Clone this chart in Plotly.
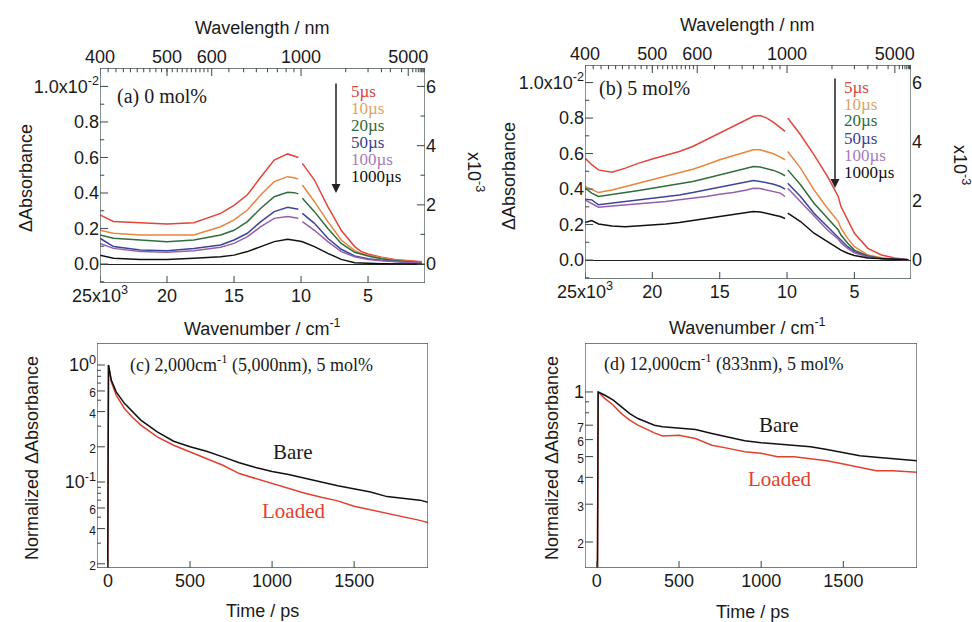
import plotly.graph_objects as go

W, H = 972, 622
def px(x): return x / W
def py(y): return 1 - y / H

delays = ["5µs", "10µs", "20µs", "50µs", "100µs", "1000µs"]

wn_a = [25, 24, 22, 20, 18, 16, 15, 14, 13, 12, 11, 10.5, 10.2, 10.05, 9.9, 9, 8, 7, 6, 5.5, 5, 4, 3, 2, 1]
a_5us = [0.276, 0.24, 0.232, 0.225, 0.233, 0.285, 0.33, 0.39, 0.49, 0.585, 0.62, 0.61, 0.60, None, 0.567, 0.473, 0.323, 0.19, 0.098, 0.07, 0.056, 0.038, 0.026, 0.019, 0.013]
a_10us = [0.19, 0.173, 0.163, 0.163, 0.163, 0.21, 0.248, 0.304, 0.39, 0.464, 0.492, 0.486, 0.478, None, 0.445, 0.351, 0.239, 0.135, 0.075, 0.06, 0.05, 0.034, 0.022, 0.015, 0.011]
a_20us = [0.163, 0.145, 0.135, 0.126, 0.135, 0.163, 0.19, 0.239, 0.314, 0.379, 0.404, 0.402, 0.395, None, 0.37, 0.295, 0.2, 0.116, 0.066, 0.054, 0.045, 0.03, 0.019, 0.013, 0.009]
a_50us = [0.145, 0.098, 0.079, 0.075, 0.088, 0.107, 0.135, 0.173, 0.239, 0.295, 0.319, 0.314, 0.308, None, 0.285, 0.229, 0.145, 0.083, 0.045, 0.036, 0.03, 0.021, 0.013, 0.009, 0.0075]
a_100us = [0.116, 0.088, 0.07, 0.066, 0.075, 0.094, 0.116, 0.154, 0.21, 0.257, 0.267, 0.263, 0.258, None, 0.239, 0.19, 0.126, 0.07, 0.041, 0.032, 0.026, 0.019, 0.013, 0.009, 0.0075]
a_1000us = [0.05, 0.032, 0.026, 0.026, 0.032, 0.041, 0.05, 0.07, 0.098, 0.126, 0.139, 0.135, 0.13, 0.128, 0.125, 0.098, 0.06, 0.026, 0.0075, 0.005, 0.004, 0.002, 0.001, 0.0, 0.0]

wn_b = [25, 24.5, 24, 23, 22, 21, 20, 19, 18, 17, 16, 15, 14, 13, 12.5, 12, 11.5, 11, 10.5, 10.15, 10.05, 9.95, 9, 8, 7, 6.2, 6, 5.5, 5, 4, 3, 2, 1]
b_5us = [0.574, 0.537, 0.508, 0.495, 0.518, 0.546, 0.569, 0.589, 0.612, 0.64, 0.678, 0.716, 0.753, 0.791, 0.81, 0.814, 0.8, 0.776, 0.744, 0.725, None, 0.8, 0.706, 0.593, 0.471, 0.358, 0.301, 0.226, 0.151, 0.066, 0.028, 0.011, 0.002]
b_10us = [0.414, 0.395, 0.38, 0.395, 0.414, 0.433, 0.456, 0.471, 0.49, 0.512, 0.537, 0.565, 0.588, 0.612, 0.621, 0.621, 0.612, 0.599, 0.58, 0.565, None, 0.612, 0.518, 0.395, 0.292, 0.217, 0.179, 0.122, 0.075, 0.028, 0.013, 0.006, 0.002]
b_20us = [0.405, 0.377, 0.358, 0.367, 0.38, 0.392, 0.405, 0.414, 0.429, 0.443, 0.461, 0.48, 0.499, 0.518, 0.527, 0.524, 0.514, 0.505, 0.49, 0.475, None, 0.508, 0.424, 0.32, 0.235, 0.169, 0.141, 0.094, 0.056, 0.023, 0.009, 0.004, 0.002]
b_50us = [0.343, 0.339, 0.311, 0.32, 0.33, 0.339, 0.348, 0.358, 0.367, 0.38, 0.395, 0.41, 0.424, 0.443, 0.448, 0.443, 0.437, 0.427, 0.414, 0.399, None, 0.433, 0.358, 0.264, 0.188, 0.132, 0.113, 0.075, 0.047, 0.019, 0.008, 0.004, 0.002]
b_100us = [0.339, 0.32, 0.298, 0.305, 0.311, 0.316, 0.32, 0.33, 0.339, 0.348, 0.358, 0.371, 0.38, 0.395, 0.405, 0.403, 0.395, 0.386, 0.377, 0.358, None, 0.405, 0.33, 0.245, 0.169, 0.117, 0.098, 0.066, 0.041, 0.017, 0.008, 0.004, 0.002]
b_1000us = [0.211, 0.222, 0.203, 0.192, 0.188, 0.192, 0.198, 0.203, 0.211, 0.222, 0.235, 0.245, 0.254, 0.267, 0.273, 0.271, 0.264, 0.254, 0.245, 0.234, None, 0.264, 0.217, 0.151, 0.104, 0.066, 0.056, 0.038, 0.026, 0.011, 0.006, 0.004, 0.002]

t_c = [-3, 3, 20, 50, 100, 150, 200, 300, 400, 500, 600, 700, 800, 900, 1000, 1100, 1200, 1300, 1400, 1500, 1600, 1700, 1800, 1900, 1950]
c_bare = [0.005, 1.0, 0.744, 0.59, 0.47, 0.40, 0.338, 0.268, 0.223, 0.2, 0.183, 0.164, 0.146, 0.133, 0.123, 0.116, 0.107, 0.1, 0.093, 0.087, 0.082, 0.075, 0.072, 0.07, 0.067]
c_loaded = [0.005, 1.0, 0.72, 0.553, 0.425, 0.356, 0.306, 0.243, 0.206, 0.181, 0.159, 0.139, 0.118, 0.107, 0.097, 0.087, 0.08, 0.074, 0.069, 0.062, 0.058, 0.054, 0.051, 0.047, 0.045]

t_d = [-2, 8, 50, 100, 150, 200, 250, 300, 350, 400, 500, 600, 700, 800, 900, 1000, 1100, 1200, 1300, 1400, 1500, 1600, 1700, 1800, 1900, 1950]
d_bare = [0.01, 1.0, 0.965, 0.915, 0.852, 0.793, 0.752, 0.726, 0.70, 0.688, 0.676, 0.669, 0.641, 0.618, 0.592, 0.58, 0.571, 0.565, 0.556, 0.54, 0.522, 0.505, 0.496, 0.49, 0.482, 0.478]
d_loaded = [0.01, 1.0, 0.931, 0.867, 0.793, 0.739, 0.70, 0.669, 0.645, 0.623, 0.629, 0.607, 0.565, 0.546, 0.527, 0.518, 0.499, 0.499, 0.49, 0.478, 0.462, 0.446, 0.43, 0.43, 0.425, 0.422]

wn_ticks = [25, 20, 15, 10, 5]
wn_ticktext = ["25x10<sup>3</sup>", "20", "15", "10", "5"]
wl_major = [400, 500, 600, 1000, 5000]
wl_minor = list(range(410, 600, 10)) + list(range(650, 1000, 50)) + [1500, 2000, 2500, 3000, 4000, 6000, 7000, 8000, 9000, 10000, 11000, 12000, 13000]
dabs_ticks = [0.0, 0.2, 0.4, 0.6, 0.8, 1.0]
dabs_minor = [-0.1, 0.1, 0.3, 0.5, 0.7, 0.9]
dabs_ticktext = ["0.0", "0.2", "0.4", "0.6", "0.8", "1.0x10<sup>-2</sup>"]
right_ticks = [0, 2, 4, 6]
right_minor = [1, 3, 5]
time_ticks = [0, 500, 1000, 1500]
c_ytv = [0.02, 0.04, 0.06, 0.1, 0.2, 0.4, 0.6, 1.0]
c_minor = [0.03, 0.05, 0.07, 0.08, 0.09, 0.3, 0.5, 0.7, 0.8, 0.9]
d_ytv = [0.2, 0.3, 0.4, 0.5, 0.6, 0.7, 1.0]
d_minor = [0.8, 0.9]

# axis ranges (axis units; log10 for the log axes)
xr_a, yr_a = [25, 0.75], [-0.107, 1.104]
xr_b, yr_b = [25, 0.8], [-0.107, 1.099]
xr_c, yr_c = [-67, 1950], [-1.735, 0.188]
xr_d, yr_d = [-72, 1948], [-0.82, 0.228]
RIGHT_SCALE = 6  # right axis (x10^-3) = 6 x left axis (x10^-2 full scale)

FC = "#4a5656"
SANS = "Liberation Sans"
SERIF = "Liberation Serif"
line_colors = ["#e2463b", "#e9853f", "#2f6e3c", "#3b4599", "#955fae", "#111111"]
label_colors = ["#d8453d", "#dca464", "#2f6a3a", "#3b4090", "#a97bb9", "#111111"]

fig = go.Figure()

for ys, c in zip([a_5us, a_10us, a_20us, a_50us, a_100us, a_1000us], line_colors):
    fig.add_trace(go.Scatter(x=wn_a, y=ys, xaxis="x", yaxis="y", mode="lines",
                             line=dict(color=c, width=1.5), connectgaps=False, showlegend=False))
fig.add_trace(go.Scatter(x=[None], y=[None], xaxis="x2", yaxis="y2", showlegend=False))

for ys, c in zip([b_5us, b_10us, b_20us, b_50us, b_100us, b_1000us], line_colors):
    fig.add_trace(go.Scatter(x=wn_b, y=ys, xaxis="x3", yaxis="y3", mode="lines",
                             line=dict(color=c, width=1.5), connectgaps=False, showlegend=False))
fig.add_trace(go.Scatter(x=[None], y=[None], xaxis="x4", yaxis="y4", showlegend=False))

fig.add_trace(go.Scatter(x=t_c, y=c_loaded, xaxis="x5", yaxis="y5", mode="lines",
                         line=dict(color="#e0412f", width=1.5), showlegend=False))
fig.add_trace(go.Scatter(x=t_c, y=c_bare, xaxis="x5", yaxis="y5", mode="lines",
                         line=dict(color="#111111", width=1.5), showlegend=False))
fig.add_trace(go.Scatter(x=t_d, y=d_loaded, xaxis="x6", yaxis="y6", mode="lines",
                         line=dict(color="#e0412f", width=1.5), showlegend=False))
fig.add_trace(go.Scatter(x=t_d, y=d_bare, xaxis="x6", yaxis="y6", mode="lines",
                         line=dict(color="#111111", width=1.5), showlegend=False))

# ---- frames and tick marks, derived from the axis ranges and tick arrays ----
def seg_trace(xs, ys, xa, ya, width=1.1):
    fig.add_trace(go.Scatter(x=xs, y=ys, xaxis=xa, yaxis=ya, mode="lines",
                             line=dict(color=FC, width=width), cliponaxis=False,
                             hoverinfo="skip", showlegend=False))

def frame(xr, yr, xa, ya, log=False):
    y0, y1 = (10 ** yr[0], 10 ** yr[1]) if log else (yr[0], yr[1])
    seg_trace([xr[0], xr[1], xr[1], xr[0], xr[0]], [y0, y0, y1, y1, y0], xa, ya, 1.3)

def vticks(vals, yr, xa, ya, frac, top=False, log=False):
    lo, hi = yr
    xs, ys = [], []
    for v in vals:
        a, b = (hi - frac * (hi - lo), hi) if top else (lo, lo + frac * (hi - lo))
        if log:
            a, b = 10 ** a, 10 ** b
        xs += [v, v, None]
        ys += [a, b, None]
    seg_trace(xs, ys, xa, ya)

def hticks(vals, xr, xa, ya, frac, right=False, outside=False):
    lo, hi = xr
    xs, ys = [], []
    for v in vals:
        if right:
            a, b = hi, (hi + frac * (hi - lo)) if outside else (hi - frac * (hi - lo))
        else:
            a, b = lo, lo + frac * (hi - lo)
        xs += [a, b, None]
        ys += [v, v, None]
    seg_trace(xs, ys, xa, ya)

wl_pos = [1e4 / w for w in wl_major]
wl_minor_pos = [1e4 / w for w in wl_minor]

for xr, yr, xa, ya, outside in [(xr_a, yr_a, "x", "y", False), (xr_b, yr_b, "x3", "y3", True)]:
    frame(xr, yr, xa, ya)
    vticks(wn_ticks, yr, xa, ya, 0.033)
    vticks(wl_pos, yr, xa, ya, 0.037, top=True)
    vticks(wl_minor_pos, yr, xa, ya, 0.02, top=True)
    hticks(dabs_ticks, xr, xa, ya, 0.025)
    hticks(dabs_minor, xr, xa, ya, 0.013)
    hticks([v / RIGHT_SCALE for v in right_ticks], xr, xa, ya, 0.025, right=True, outside=outside)
    hticks([v / RIGHT_SCALE for v in right_minor], xr, xa, ya, 0.014, right=True, outside=outside)

for xr, yr, xa, ya, ymaj, ymin in [(xr_c, yr_c, "x5", "y5", c_ytv, c_minor),
                                    (xr_d, yr_d, "x6", "y6", d_ytv, d_minor)]:
    frame(xr, yr, xa, ya, log=True)
    vticks(time_ticks, yr, xa, ya, 0.031, log=True)
    hticks(ymaj, xr, xa, ya, 0.024)
    hticks(ymin, xr, xa, ya, 0.012)

# ---- axes (labels only; the frame is drawn above) ----
tf = dict(family=SANS, size=18, color="#1a1a1a")

def ax(**kw):
    d = dict(showgrid=False, zeroline=False, showline=False, ticks="", tickfont=tf,
             tickmode="array")
    d.update(kw)
    return d

def spectral_axes(xa, xb, ya, yb, xdom, ydom, xrange, yrange):
    lay = {}
    lay[xa[0]] = ax(domain=xdom, anchor=ya[1], range=xrange, tickvals=wn_ticks,
                    ticktext=wn_ticktext)
    lay[xb[0]] = ax(overlaying=xa[1], anchor=ya[1], side="top", range=xrange,
                    tickvals=wl_pos, ticktext=[str(w) for w in wl_major])
    lay[ya[0]] = ax(domain=ydom, anchor=xa[1], range=yrange, tickvals=dabs_ticks,
                    ticktext=dabs_ticktext, zeroline=True, zerolinecolor="#222222",
                    zerolinewidth=1.2)
    lay[yb[0]] = ax(overlaying=ya[1], anchor=xa[1], side="right",
                    range=[yrange[0] * RIGHT_SCALE, yrange[1] * RIGHT_SCALE],
                    tickvals=right_ticks)
    return lay

layout_axes = {}
layout_axes.update(spectral_axes(("xaxis", "x"), ("xaxis2", "x2"), ("yaxis", "y"), ("yaxis2", "y2"),
                                 [px(100), px(425)], [py(283), py(68)], xr_a, yr_a))
layout_axes.update(spectral_axes(("xaxis3", "x3"), ("xaxis4", "x4"), ("yaxis3", "y3"), ("yaxis4", "y4"),
                                 [px(585), px(911)], [py(279), py(65)], xr_b, yr_b))

small = lambda s: "<span style='font-size:12px'>%s</span>" % s
c_ytt = [small("2"), small("4"), small("6"), "10<sup>-1</sup>", small("2"), small("4"), small("6"), "10<sup>0</sup>"]
d_ytt = [small("2"), small("3"), small("4"), small("5"), small("6"), small("7"), "1"]

layout_axes["xaxis5"] = ax(domain=[px(97), px(428)], anchor="y5", range=xr_c, tickvals=time_ticks)
layout_axes["yaxis5"] = ax(domain=[py(568), py(343)], anchor="x5", type="log", range=yr_c,
                           tickvals=c_ytv, ticktext=c_ytt)
layout_axes["xaxis6"] = ax(domain=[px(585), px(917)], anchor="y6", range=xr_d, tickvals=time_ticks)
layout_axes["yaxis6"] = ax(domain=[py(568), py(343)], anchor="x6", type="log", range=yr_d,
                           tickvals=d_ytv, ticktext=d_ytt)

ann = []
def text(x, y, s, size=18, family=SANS, color="#1a1a1a", angle=0, xanchor="center"):
    ann.append(dict(x=px(x), y=py(y), xref="paper", yref="paper", text=s, showarrow=False,
                    font=dict(family=family, size=size, color=color), textangle=angle,
                    xanchor=xanchor, yanchor="middle"))

text(262, 28, "Wavelength / nm")
text(747, 25, "Wavelength / nm")
text(262, 328, "Wavenumber / cm<sup>-1</sup>")
text(747, 326, "Wavenumber / cm<sup>-1</sup>")
text(26, 178, "ΔAbsorbance", angle=-90)
text(509, 176, "ΔAbsorbance", angle=-90)
text(476, 172, "x10<sup>-3</sup>", angle=90)
text(962, 165, "x10<sup>-3</sup>", angle=90)
text(262, 611, "Time / ps")
text(752, 612, "Time / ps")
text(32, 458, "Normalized ΔAbsorbance", angle=-90)
text(552, 458, "Normalized ΔAbsorbance", angle=-90)

text(115, 96, "(a) 0 mol%", size=20, family=SERIF, xanchor="left")
text(597, 88, "(b) 5 mol%", size=20, family=SERIF, xanchor="left")
text(128, 364, "(c) 2,000cm<sup>-1</sup> (5,000nm), 5 mol%", size=18, family=SERIF, xanchor="left")
text(602, 363, "(d) 12,000cm<sup>-1</sup> (833nm), 5 mol%", size=18, family=SERIF, xanchor="left")
text(293, 452, "Bare", size=21, family=SERIF)
text(293, 511, "Loaded", size=21, family=SERIF, color="#e0412f")
text(779, 425, "Bare", size=21, family=SERIF)
text(779, 479, "Loaded", size=21, family=SERIF, color="#e0412f")

for i, (lab, col) in enumerate(zip(delays, label_colors)):
    text(349, 92 + 16.8 * i, lab, size=17, family=SERIF, color=col, xanchor="left")
    text(842, 87 + 17 * i, lab, size=17, family=SERIF, color=col, xanchor="left")

for x0, y0, y1 in [(336, 82, 193), (835, 77, 188)]:
    ann.append(dict(x=px(x0), y=py(y1), xref="paper", yref="paper", ax=0, ay=-(y1 - y0),
                    axref="pixel", ayref="pixel", text="", showarrow=True, arrowhead=2,
                    arrowsize=1.2, arrowwidth=1.5, arrowcolor="#222222"))

fig.update_layout(template="none", width=W, height=H, margin=dict(l=0, r=0, t=0, b=0),
                  paper_bgcolor="white", plot_bgcolor="rgba(0,0,0,0)", showlegend=False,
                  annotations=ann, **layout_axes)

fig.write_html("out.html")
